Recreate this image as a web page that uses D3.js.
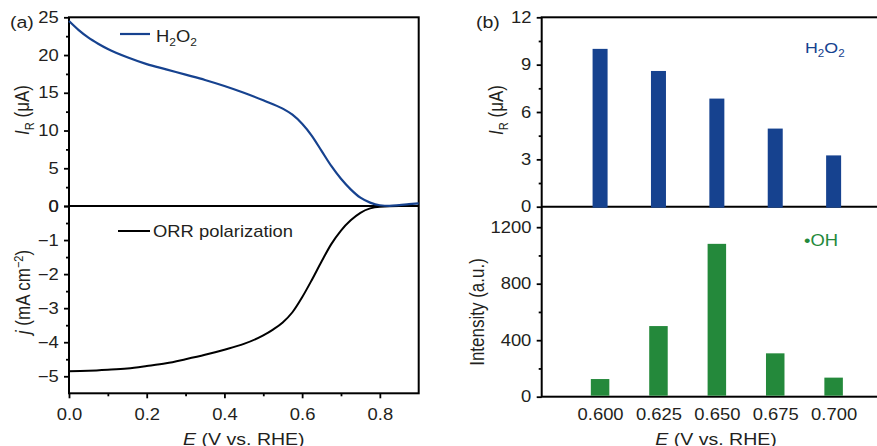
<!DOCTYPE html>
<html lang="en">
<head>
<meta charset="UTF-8">
<script src="https://d3js.org/d3.v7.min.js"></script>
<title>RRDE H2O2 and OH chart</title>
<style>
    body { margin: 0; background: #fff; }
    svg text { font-family: "Liberation Sans", Arial, sans-serif; fill: #231f20; }
    .tick line { stroke: #000; stroke-width: 1.8; }
    .frame { stroke: #000; stroke-width: 2; fill: none; }
</style>
</head>
<body>
<div id="chart"></div>
<script>
// ---- data ----
// panel (a): ring current for H2O2
var eH2o2 = [0, 0.025, 0.05, 0.075, 0.1, 0.15, 0.2, 0.25, 0.3, 0.35, 0.4, 0.45, 0.5, 0.55, 0.575, 0.6, 0.625, 0.65, 0.675, 0.7, 0.725, 0.75, 0.775, 0.8, 0.825, 0.85, 0.875, 0.9];
var iH2o2 = [24.5, 23.3, 22.3, 21.5, 20.8, 19.7, 18.8, 18.1, 17.4, 16.7, 15.9, 15.0, 14.0, 12.9, 12.1, 10.9, 9.3, 7.3, 5.3, 3.6, 2.2, 1.1, 0.45, 0.1, 0.02, 0.12, 0.25, 0.36];
// panel (a): ORR polarization curve
var eOrr = [0, 0.05, 0.1, 0.15, 0.2, 0.25, 0.3, 0.35, 0.4, 0.45, 0.5, 0.525, 0.55, 0.575, 0.6, 0.625, 0.65, 0.675, 0.7, 0.725, 0.75, 0.775, 0.8, 0.85, 0.9];
var jOrr = [-4.85, -4.84, -4.81, -4.77, -4.70, -4.62, -4.5, -4.37, -4.22, -4.05, -3.8, -3.63, -3.42, -3.12, -2.68, -2.17, -1.63, -1.12, -0.72, -0.42, -0.2, -0.07, -0.02, 0, 0];
// panel (b): bars
var potentials = [0.600, 0.625, 0.650, 0.675, 0.700];
var h2o2Current = [10.0, 8.6, 6.85, 4.95, 3.25];
var ohIntensity = [125, 500, 1082, 307, 135];
// tick values
var xTicksA = [0, 0.2, 0.4, 0.6, 0.8], xMinorA = [0.1, 0.3, 0.5, 0.7];
var yTicksTopA = [0, 5, 10, 15, 20, 25], yMinorTopA = [2.5, 7.5, 12.5, 17.5, 22.5];
var yTicksBotA = [-5, -4, -3, -2, -1, 0], yMinorBotA = [-4.5, -3.5, -2.5, -1.5, -0.5];
var yTicksTopB = [0, 3, 6, 9, 12], yMinorTopB = [1.5, 4.5, 7.5, 10.5];
var yTicksBotB = [0, 400, 800, 1200], yMinorBotB = [200, 600, 1000];

var width = 877, height = 446, sx = 1.15;
var blue = "#16428f", green = "#24893b";

var svg = d3.select("#chart").append("svg")
    .attr("width", width).attr("height", height);

// scales
var xA = d3.scaleLinear().domain([0, 0.9]).range([69, 418.7]);
var yTopA = d3.scaleLinear().domain([0, 25]).range([206, 17.3]);
var yBotA = d3.scaleLinear().domain([-5.5, 0]).range([393.3, 206]);
var xB = d3.scaleLinear().domain([0.575, 0.725]).range([541.7, 892]);
var yTopB = d3.scaleLinear().domain([0, 12]).range([206.7, 17.3]);
var yBotB = d3.scaleLinear().domain([0, 1345]).range([396.7, 206.7]);

// helpers
function leftAxis(scale, x, major, minor, fmt) {
    var g = svg.append("g").attr("transform", "translate(" + x + ",0)");
    g.call(d3.axisLeft(scale).tickValues(minor).tickSize(3).tickFormat(""));
    g.select(".domain").remove();
    var m = svg.append("g").attr("transform", "translate(" + x + ",0)");
    m.call(d3.axisLeft(scale).tickValues(major).tickSize(5).tickPadding(4).tickFormat(fmt));
    m.select(".domain").remove();
    m.selectAll("text").attr("font-size", 16).attr("fill", "#231f20")
        .attr("font-family", null).attr("transform", "scale(" + sx + ",1)");
}

function label(x, y, size, parts, color, rotate) {
    var t = svg.append("text")
        .attr("font-size", size)
        .attr("transform", "translate(" + x + "," + y + ")" +
            (rotate ? " rotate(-90) scale(1," + sx + ")" : " scale(" + sx + ",1)"))
        .attr("text-anchor", rotate ? "middle" : "start");
    if (color) t.style("fill", color);
    parts.forEach(function (p) {
        var ts = t.append("tspan").text(p.t);
        if (p.sub) ts.attr("dy", size * 0.28).attr("font-size", size * 0.65);
        if (p.sup) ts.attr("dy", -size * 0.38).attr("font-size", size * 0.65);
        if (p.back) ts.attr("dy", p.back);
        if (p.i) ts.attr("font-style", "italic");
    });
    return t;
}

// ---------- panel (a) ----------
svg.append("rect").attr("class", "frame")
    .attr("x", xA(0)).attr("y", yTopA(25))
    .attr("width", xA(0.9) - xA(0)).attr("height", yBotA(-5.5) - yTopA(25));
svg.append("line").attr("class", "frame")
    .attr("x1", xA(0)).attr("x2", xA(0.9)).attr("y1", yTopA(0)).attr("y2", yTopA(0));

leftAxis(yTopA, xA(0), yTicksTopA, yMinorTopA, d3.format("d"));
leftAxis(yBotA, xA(0), yTicksBotA, yMinorBotA, function (d) { return d < 0 ? "\u2212" + (-d) : d; });

var gxA = svg.append("g").attr("transform", "translate(0," + yBotA(-5.5) + ")");
gxA.call(d3.axisBottom(xA).tickValues(xMinorA).tickSize(3).tickFormat(""));
gxA.select(".domain").remove();
var gxA2 = svg.append("g").attr("transform", "translate(0," + yBotA(-5.5) + ")");
gxA2.call(d3.axisBottom(xA).tickValues(xTicksA).tickSize(5).tickPadding(10).tickFormat(d3.format(".1f")));
gxA2.select(".domain").remove();
gxA2.selectAll("text").attr("font-size", 16).attr("font-family", null)
    .attr("transform", "scale(" + sx + ",1)");

var lineTop = d3.line().x(function (d) { return xA(d[0]); }).y(function (d) { return yTopA(d[1]); }).curve(d3.curveMonotoneX);
var lineBot = d3.line().x(function (d) { return xA(d[0]); }).y(function (d) { return yBotA(d[1]); }).curve(d3.curveMonotoneX);

svg.append("path").datum(d3.zip(eOrr, jOrr)).attr("d", lineBot)
    .attr("fill", "none").attr("stroke", "#000").attr("stroke-width", 2);
svg.append("path").datum(d3.zip(eH2o2, iH2o2)).attr("d", lineTop)
    .attr("fill", "none").attr("stroke", blue).attr("stroke-width", 2.2);

// legends
svg.append("line").attr("x1", 120).attr("x2", 150).attr("y1", 34).attr("y2", 34)
    .attr("stroke", blue).attr("stroke-width", 2.2);
label(156, 41.5, 16, [{ t: "H" }, { t: "2", sub: true }, { t: "O", back: -16 * 0.28 }, { t: "2", sub: true }]);
svg.append("line").attr("x1", 118).attr("x2", 150).attr("y1", 231).attr("y2", 231)
    .attr("stroke", "#000").attr("stroke-width", 2);
label(153, 236.5, 16, [{ t: "ORR polarization" }]);

// axis titles
label(29, 110, 17, [{ t: "I", i: true }, { t: "R", sub: true }, { t: " (\u03bcA)", back: -17 * 0.28 }], null, true);
label(30, 292, 17, [{ t: "j", i: true }, { t: " (mA cm" }, { t: "\u22122", sup: true }, { t: ")", back: 17 * 0.38 }], null, true);
label(0, 445, 17, [{ t: "E", i: true }, { t: " (V vs. RHE)" }]).attr("text-anchor", "middle")
    .attr("transform", "translate(" + (xA(0) + xA(0.9)) / 2 + ",445) scale(" + sx + ",1)");
label(10, 28, 17, [{ t: "(a)" }]);

// ---------- panel (b) ----------
svg.append("rect").attr("class", "frame")
    .attr("x", xB(0.575)).attr("y", yTopB(12))
    .attr("width", xB(0.725) - xB(0.575)).attr("height", yBotB(0) - yTopB(12));

svg.selectAll(".barOh").data(potentials).enter().append("rect")
    .attr("class", "barOh")
    .attr("x", function (d) { return xB(d) - 9.25; })
    .attr("width", 18.5)
    .attr("y", function (d, i) { return yBotB(ohIntensity[i]); })
    .attr("height", function (d, i) { return yBotB(0) - yBotB(ohIntensity[i]) - 1; })
    .attr("fill", green);

svg.append("line").attr("class", "frame")
    .attr("x1", xB(0.575)).attr("x2", xB(0.725)).attr("y1", yTopB(0)).attr("y2", yTopB(0));

svg.selectAll(".barH").data(potentials).enter().append("rect")
    .attr("class", "barH")
    .attr("x", function (d) { return xB(d) - 7.5; })
    .attr("width", 15)
    .attr("y", function (d, i) { return yTopB(h2o2Current[i]); })
    .attr("height", function (d, i) { return yTopB(0) - yTopB(h2o2Current[i]) + 1; })
    .attr("fill", blue);

leftAxis(yTopB, xB(0.575), yTicksTopB, yMinorTopB, d3.format("d"));
leftAxis(yBotB, xB(0.575), yTicksBotB, yMinorBotB, d3.format("d"));

var gxB = svg.append("g").attr("transform", "translate(0," + yBotB(0) + ")");
gxB.call(d3.axisBottom(xB).tickValues(potentials).tickSize(0).tickPadding(12).tickFormat(d3.format(".3f")));
gxB.select(".domain").remove();
gxB.selectAll("text").attr("font-size", 16).attr("font-family", null)
    .attr("transform", "scale(" + sx + ",1)");

label(805, 53, 15.5, [{ t: "H" }, { t: "2", sub: true }, { t: "O", back: -15.5 * 0.28 }, { t: "2", sub: true }], blue);
label(804, 246, 16, [{ t: "\u2022OH" }], green);

label(503, 110, 17, [{ t: "I", i: true }, { t: "R", sub: true }, { t: " (\u03bcA)", back: -17 * 0.28 }], null, true);
label(484, 312, 17, [{ t: "Intensity (a.u.)" }], null, true);
label(0, 445, 17, [{ t: "E", i: true }, { t: " (V vs. RHE)" }]).attr("text-anchor", "middle")
    .attr("transform", "translate(716,445) scale(" + sx + ",1)");
label(476, 28, 17, [{ t: "(b)" }]);
</script>
</body>
</html>
